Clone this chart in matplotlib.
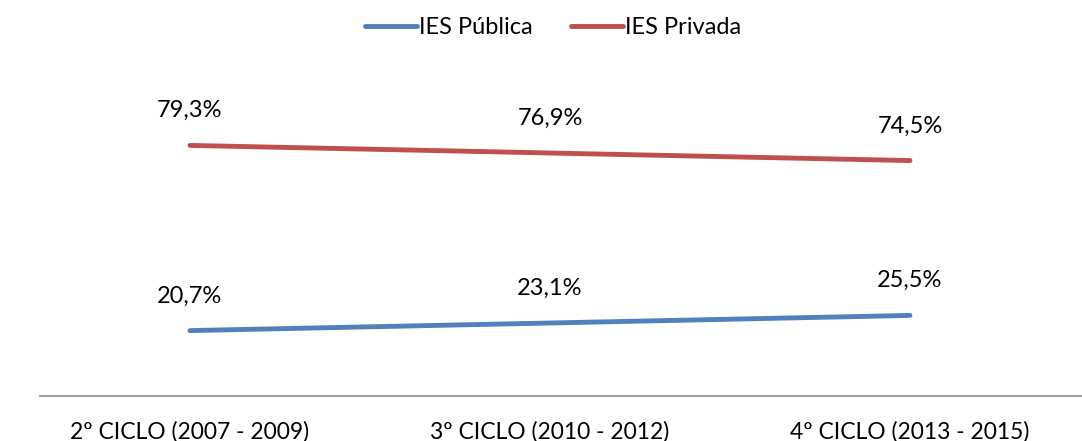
import matplotlib.pyplot as plt

plt.rcParams['font.family'] = ['Lato', 'DejaVu Sans']

ciclos = ['2º CICLO (2007 - 2009)', '3º CICLO (2010 - 2012)', '4º CICLO (2013 - 2015)']
publica = [20.7, 23.1, 25.5]
privada = [79.3, 76.9, 74.5]
series_names = ['IES Pública', 'IES Privada']
cores = ['#4F81BD', '#C0504D']

fig = plt.figure(figsize=(10.82, 4.41), dpi=100)
ax = fig.add_axes([40 / 1082, 45 / 441, 1042 / 1082, 316 / 441])

x = list(range(len(ciclos)))
for vals, nome, cor in zip([publica, privada], series_names, cores):
    ax.plot(x, vals, color=cor, lw=3.5, solid_capstyle='round', label=nome)
    for xi, v in zip(x, vals):
        ax.annotate(f'{v:.1f}%'.replace('.', ','), (xi, v), xytext=(0, 25),
                    textcoords='offset points', ha='center', va='center', fontsize=17)

# pontos em x = 190, 550, 910 px
ax.set_xlim((40 - 190) / 360, (1082 - 190) / 360)
ax.set_ylim(0, 100)
ax.set_xticks(x)
ax.set_xticklabels(ciclos, fontsize=16.5)
ax.tick_params(axis='x', length=0, pad=18)
ax.set_yticks([])
for s in ['top', 'right', 'left']:
    ax.spines[s].set_visible(False)
ax.spines['bottom'].set_color('#A0A0A0')
ax.spines['bottom'].set_linewidth(1.5)

fig.legend(loc='upper center', bbox_to_anchor=(553 / 1082, 1.01), ncol=2, frameon=False,
           fontsize=17, handlelength=2.2, handletextpad=0.1, columnspacing=1.6)

fig.savefig('out.png', dpi=100)
